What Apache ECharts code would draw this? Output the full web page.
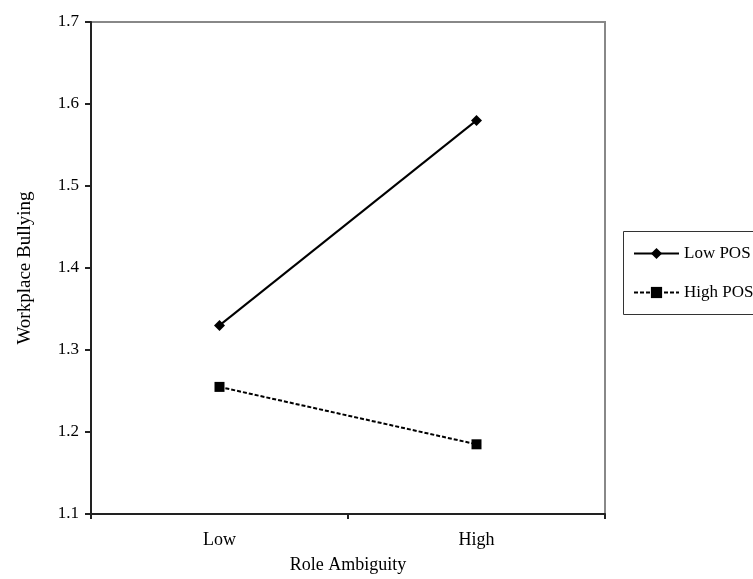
<!DOCTYPE html>
<html>
<head>
<meta charset="utf-8">
<script src="https://cdn.jsdelivr.net/npm/echarts@6/dist/echarts.min.js"></script>
<style>
  html, body { margin: 0; padding: 0; background: #fff; }
  #chart { width: 753px; height: 579px; }
</style>
</head>
<body>
<div id="chart"></div>
<script>
// data
var categories = ['Low', 'High'];
var lowPOS = [1.33, 1.58];
var highPOS = [1.255, 1.185];
var seriesNames = ['Low POS', 'High POS'];

var serif = 'Liberation Serif';
var chart = echarts.init(document.getElementById('chart'));

chart.setOption({
    backgroundColor: '#fff',
    animation: false,
    textStyle: {fontFamily: serif, color: '#000'},
    grid: {
        left: 91,
        right: 148,
        top: 22,
        bottom: 62,
        show: true,
        borderColor: '#888',
        borderWidth: 2
    },
    legend: {
        orient: 'vertical',
        left: 633,
        top: 245,
        itemWidth: 45,
        itemHeight: 14,
        itemGap: 22,
        padding: 0,
        textStyle: {fontFamily: serif, fontSize: 17, color: '#000'},
        data: seriesNames
    },
    graphic: [{
        // legend frame, runs off the right edge as in the original
        type: 'rect',
        left: 621,
        top: 229,
        shape: {width: 200, height: 83},
        style: {fill: 'none', stroke: '#333', lineWidth: 1},
        silent: true
    }],
    xAxis: {
        type: 'category',
        data: categories,
        boundaryGap: true,
        name: 'Role Ambiguity',
        nameLocation: 'middle',
        nameGap: 42,
        nameTextStyle: {fontFamily: serif, fontSize: 18, color: '#000'},
        axisLine: {lineStyle: {color: '#222', width: 2}},
        axisTick: {show: true, length: 5, lineStyle: {color: '#222', width: 2}},
        axisLabel: {fontFamily: serif, fontSize: 18, color: '#000', margin: 17},
        splitLine: {show: false}
    },
    yAxis: {
        type: 'value',
        min: 1.1,
        max: 1.7,
        interval: 0.1,
        name: 'Workplace Bullying',
        nameLocation: 'middle',
        nameGap: 56,
        nameTextStyle: {fontFamily: serif, fontSize: 19, color: '#000'},
        axisLine: {show: true, lineStyle: {color: '#222', width: 2}},
        axisTick: {show: true, length: 6, lineStyle: {color: '#222', width: 2}},
        axisLabel: {
            fontFamily: serif, fontSize: 17, color: '#000', margin: 12,
            formatter: function (v) { return v.toFixed(1); }
        },
        splitLine: {show: false}
    },
    series: [
        {
            name: seriesNames[0],
            type: 'line',
            data: lowPOS,
            symbol: 'diamond',
            symbolSize: 11,
            itemStyle: {color: '#000'},
            lineStyle: {color: '#000', width: 2, type: 'solid'}
        },
        {
            name: seriesNames[1],
            type: 'line',
            data: highPOS,
            symbol: 'rect',
            symbolSize: 10,
            itemStyle: {color: '#000'},
            lineStyle: {color: '#000', width: 2, type: [4, 2]}
        }
    ]
});
</script>
</body>
</html>
